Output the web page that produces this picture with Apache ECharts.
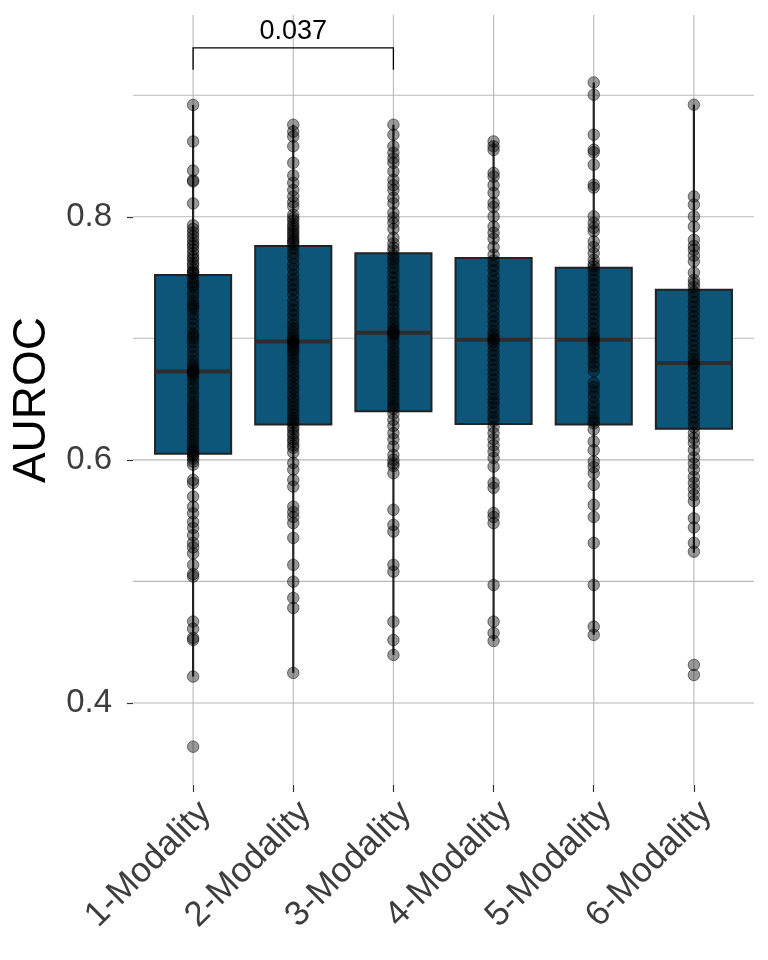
<!DOCTYPE html>
<html><head><meta charset="utf-8">
<script src="https://cdn.jsdelivr.net/npm/echarts@6/dist/echarts.min.js"></script>
<style>html,body{margin:0;padding:0;background:#fff}#c{width:768px;height:960px}</style>
</head><body><div id="c"></div>
<script>
const categories = ['1-Modality','2-Modality','3-Modality','4-Modality','5-Modality','6-Modality'];
const whiskerLow  = [0.4217, 0.4247, 0.4395, 0.451, 0.456, 0.5235];
const q1          = [0.605, 0.629, 0.640, 0.6296, 0.629, 0.6255];
const median      = [0.6727, 0.6974, 0.7045, 0.6988, 0.6988, 0.6796];
const q3          = [0.752, 0.776, 0.770, 0.766, 0.758, 0.740];
const whiskerHigh = [0.892, 0.8757, 0.8757, 0.862, 0.9105, 0.8922];

const pts1 = [0.892,0.862,0.838,0.830,0.829,0.811,0.793,0.790,0.787,0.784,0.781,0.778,0.776,0.773,0.770,0.767,0.765,0.762,0.760,0.757,0.755,0.754,0.753,
  0.750,0.746,0.744,0.742,0.738,0.735,0.731,0.728,0.726,0.724,0.720,0.716,0.712,0.708,0.704,0.702,0.700,0.697,0.693,0.689,0.685,0.681,0.678,0.676,0.674,0.673,0.672,0.671,0.669,0.666,0.662,0.659,0.655,0.652,0.648,0.645,0.642,0.639,0.636,0.633,0.630,0.627,0.624,0.621,0.618,0.615,0.612,0.609,0.607,0.606,
  0.604,0.603,0.601,0.5986,0.596,0.5835,0.581,0.5698,0.5615,0.556,0.549,0.544,0.538,0.5317,0.528,0.523,0.5136,0.506,0.504,0.467,0.461,0.4535,0.4518,0.4217,0.364];
const pts2 = [0.8757,0.870,0.866,0.858,0.8444,0.834,0.828,0.822,0.8167,0.812,0.8085,0.8016,0.799,0.797,0.794,0.792,0.790,0.788,0.786,0.784,0.782,0.780,0.779,0.777,
  0.774,0.770,0.766,0.761,0.757,0.752,0.748,0.744,0.740,0.736,0.731,0.727,0.723,0.719,0.715,0.711,0.708,0.705,0.702,0.700,0.698,0.697,0.696,0.694,0.692,0.690,0.688,0.685,0.682,0.679,0.676,0.672,0.669,0.666,0.662,0.659,0.656,0.652,0.649,0.646,0.643,0.640,0.637,0.634,0.632,0.630,
  0.627,0.625,0.622,0.620,0.617,0.615,0.612,0.610,0.606,0.5975,0.592,0.5835,0.578,0.5615,0.557,0.553,0.548,0.5358,0.5136,0.4998,0.4864,0.4782,0.4247];
const pts3 = [0.8757,0.8675,0.858,0.8527,0.848,0.8444,0.8373,0.8305,0.826,0.822,0.8156,0.811,0.8033,0.799,0.795,0.790,0.7827,0.778,0.7745,0.772,
  0.768,0.765,0.762,0.758,0.754,0.750,0.746,0.742,0.738,0.735,0.731,0.728,0.724,0.720,0.717,0.713,0.710,0.707,0.705,0.704,0.702,0.699,0.696,0.692,0.689,0.686,0.683,0.680,0.677,0.674,0.671,0.668,0.665,0.662,0.659,0.656,0.653,0.650,0.647,0.644,0.642,
  0.638,0.633,0.628,0.622,0.617,0.611,0.604,0.600,0.597,0.595,0.589,0.5589,0.5465,0.541,0.5136,0.508,0.4669,0.4518,0.4395];
const pts4 = [0.862,0.858,0.855,0.836,0.833,0.826,0.8197,0.8115,0.808,0.8003,0.792,0.7868,0.782,0.775,0.7687,
  0.764,0.760,0.756,0.751,0.747,0.743,0.739,0.735,0.731,0.727,0.722,0.718,0.714,0.710,0.706,0.703,0.700,0.699,0.697,0.694,0.690,0.686,0.682,0.678,0.674,0.670,0.666,0.662,0.658,0.654,0.650,0.647,0.643,0.639,0.635,0.632,
  0.627,0.622,0.617,0.612,0.607,0.6016,0.5945,0.581,0.577,0.5563,0.553,0.548,0.4971,0.4669,0.4576,0.451];
const pts5 = [0.9105,0.9004,0.8675,0.8551,0.853,0.8428,0.8263,0.824,0.8003,0.795,0.791,0.788,0.7797,0.775,0.770,0.7646,0.761,0.759,
  0.756,0.752,0.748,0.744,0.740,0.736,0.732,0.728,0.724,0.720,0.716,0.712,0.708,0.704,0.701,0.699,0.697,0.694,0.691,0.687,0.684,0.680,0.677,0.673,0.6634,0.660,0.656,0.652,0.647,0.643,0.639,0.635,0.632,0.630,
  0.625,0.6151,0.608,0.5986,0.594,0.589,0.5794,0.563,0.553,0.5317,0.4971,0.4628,0.456];
const pts6 = [0.8922,0.8167,0.810,0.8003,0.792,0.781,0.776,0.7728,0.768,0.7632,0.754,0.748,0.745,0.742,
  0.738,0.734,0.730,0.726,0.722,0.718,0.714,0.710,0.706,0.702,0.698,0.694,0.690,0.686,0.683,0.680,0.678,0.675,0.671,0.667,0.663,0.659,0.655,0.651,0.647,0.643,0.639,0.635,0.631,0.627,
  0.622,0.618,0.614,0.608,0.602,0.597,0.592,0.586,0.581,0.576,0.571,0.566,0.5519,0.5444,0.5317,0.5245,0.4313,0.423];
const allPoints = [pts1, pts2, pts3, pts4, pts5, pts6];

const yGridValues = [0.4, 0.5, 0.6, 0.7, 0.8, 0.9];
const yTickLabels = [0.4, 0.6, 0.8];
const xPositions = [1, 2, 3, 4, 5, 6];
const bracket = { from: 1, to: 3, top: 0.939, tip: 0.921, label: '0.037' };

const X_MIN = 0.4, X_MAX = 6.6, Y_MIN = 0.3325, Y_MAX = 0.966;
const GRID_COLOR = '#b8b8b8';
const FONT = 'Liberation Sans, Arial, sans-serif';

const chart = echarts.init(document.getElementById('c'), null, { renderer: 'canvas' });

const scatterData = [];
allPoints.forEach((arr, i) => arr.forEach(v => scatterData.push([xPositions[i], v])));
const boxData = categories.map((c, i) => [xPositions[i], whiskerLow[i], q1[i], median[i], q3[i], whiskerHigh[i]]);

const option = {
  animation: false,
  backgroundColor: '#ffffff',
  textStyle: { fontFamily: FONT },
  grid: { left: 133, right: 14, top: 15, bottom: 175, containLabel: false },
  xAxis: {
    type: 'value', min: X_MIN, max: X_MAX,
    axisLine: { show: false },
    splitLine: { show: false },
    axisTick: { show: true, customValues: xPositions, length: 7, lineStyle: { color: '#333', width: 1.2 } },
    axisLabel: {
      customValues: xPositions, rotate: 45, margin: 10, fontSize: 35, color: '#3d3d3d',
      fontFamily: FONT, verticalAlign: 'top', align: 'right',
      formatter: v => categories[Math.round(v) - 1]
    }
  },
  yAxis: {
    type: 'value', min: Y_MIN, max: Y_MAX,
    name: 'AUROC', nameLocation: 'middle', nameRotate: 90, nameGap: 75,
    nameTextStyle: { fontSize: 46, color: '#000', fontFamily: FONT },
    axisLine: { show: false },
    splitLine: { show: false },
    axisTick: { show: true, customValues: yTickLabels, length: 6, lineStyle: { color: '#333', width: 1.2 } },
    axisLabel: {
      customValues: yTickLabels, margin: 21, fontSize: 33, color: '#3d3d3d',
      fontFamily: FONT,
      formatter: v => v.toFixed(1)
    }
  },
  series: [
    {
      type: 'custom', name: 'hgrid', silent: true, z: 0,
      data: yGridValues.map(v => [X_MIN, v]),
      encode: { x: 0, y: 1 },
      renderItem: (params, api) => {
        const a = api.coord([X_MIN, api.value(1)]);
        const b = api.coord([X_MAX, api.value(1)]);
        return { type: 'line', shape: { x1: a[0], y1: a[1], x2: b[0], y2: b[1] }, style: { stroke: GRID_COLOR, lineWidth: 1.1 } };
      }
    },
    {
      type: 'custom', name: 'vgrid', silent: true, z: 0,
      data: xPositions.map(x => [x, Y_MIN]),
      encode: { x: 0, y: 1 },
      renderItem: (params, api) => {
        const a = api.coord([api.value(0), Y_MIN]);
        const b = api.coord([api.value(0), Y_MAX]);
        return { type: 'line', shape: { x1: a[0], y1: a[1], x2: b[0], y2: b[1] }, style: { stroke: GRID_COLOR, lineWidth: 1.1 } };
      }
    },
    {
      type: 'custom', name: 'box', silent: true, z: 2,
      data: boxData,
      encode: { x: 0, y: [1, 2, 3, 4, 5] },
      renderItem: (params, api) => {
        const x = api.value(0), hw = 0.38;
        const lo = api.coord([x, api.value(1)]);
        const b = api.coord([x, api.value(2)]);
        const m = api.coord([x, api.value(3)]);
        const t = api.coord([x, api.value(4)]);
        const hi = api.coord([x, api.value(5)]);
        const l = api.coord([x - hw, api.value(3)])[0];
        const r = api.coord([x + hw, api.value(3)])[0];
        const ws = { stroke: '#222', lineWidth: 2.2 };
        return { type: 'group', children: [
          { type: 'line', shape: { x1: lo[0], y1: lo[1], x2: b[0], y2: b[1] }, style: ws },
          { type: 'line', shape: { x1: t[0], y1: t[1], x2: hi[0], y2: hi[1] }, style: ws },
          { type: 'rect', shape: { x: l, y: t[1], width: r - l, height: b[1] - t[1] }, style: { fill: '#0d5679', stroke: '#222', lineWidth: 2 } },
          { type: 'line', shape: { x1: l, y1: m[1], x2: r, y2: m[1] }, style: { stroke: '#2d2d2d', lineWidth: 4 } }
        ] };
      }
    },
    {
      type: 'scatter', name: 'points', silent: true, z: 3,
      data: scatterData,
      symbol: 'circle', symbolSize: 11.5,
      itemStyle: { color: 'rgba(0,0,0,0.5)', borderColor: 'rgba(0,0,0,0.6)', borderWidth: 1 }
    },
    {
      type: 'custom', name: 'bracket', silent: true, z: 4,
      data: [[bracket.from, bracket.to, bracket.top, bracket.tip]],
      encode: { x: [0, 1], y: [2, 3] },
      renderItem: (params, api) => {
        const p1 = api.coord([api.value(0), api.value(3)]);
        const p2 = api.coord([api.value(0), api.value(2)]);
        const p3 = api.coord([api.value(1), api.value(2)]);
        const p4 = api.coord([api.value(1), api.value(3)]);
        const st = { stroke: '#000', lineWidth: 1.3, fill: null };
        return { type: 'group', children: [
          { type: 'polyline', shape: { points: [p1, p2, p3, p4] }, style: st },
          { type: 'text', x: (p2[0] + p3[0]) / 2, y: p2[1] - 3,
            style: { text: bracket.label, fill: '#000', fontSize: 27, align: 'center', verticalAlign: 'bottom', fontFamily: FONT } }
        ] };
      }
    }
  ]
};
chart.setOption(option);
</script></body></html>
